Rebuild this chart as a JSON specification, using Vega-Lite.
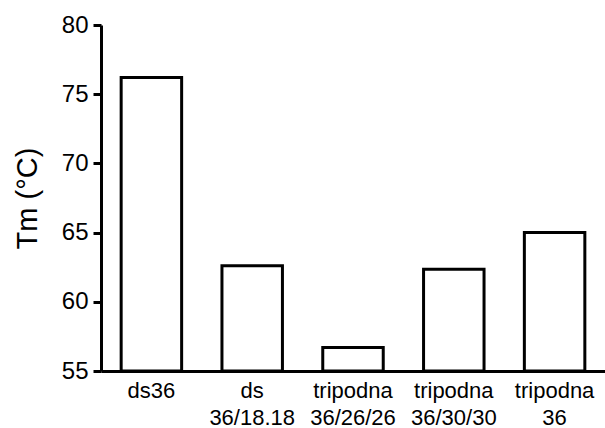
{
  "$schema": "https://vega.github.io/schema/vega-lite/v6.json",
  "width": 504,
  "height": 346,
  "autosize": {"type": "none"},
  "padding": {"left": 101, "top": 25, "right": 0, "bottom": 57},
  "background": "white",
  "config": {
    "view": {"stroke": null},
    "font": "Liberation Sans",
    "axis": {"grid": false, "domainColor": "black", "tickColor": "black", "labelColor": "black", "titleColor": "black", "domainWidth": 3, "tickWidth": 3}
  },
  "data": {
    "values": [
      {"cat": "ds36", "tm": 76.2},
      {"cat": "ds|36/18.18", "tm": 62.6},
      {"cat": "tripodna|36/26/26", "tm": 56.7},
      {"cat": "tripodna|36/30/30", "tm": 62.35},
      {"cat": "tripodna|36", "tm": 65.0}
    ]
  },
  "mark": {"type": "bar", "fill": "white", "stroke": "black", "strokeWidth": 3},
  "encoding": {
    "x": {
      "field": "cat", "type": "nominal", "sort": null,
      "scale": {"paddingInner": 0.4, "paddingOuter": 0.2},
      "axis": {"title": null, "ticks": false, "labelAngle": 0, "labelFontSize": 22, "labelPadding": 9, "labelLineHeight": 27, "labelExpr": "split(datum.label, '|')", "labelBaseline": "top", "labelOverlap": false}
    },
    "y": {
      "field": "tm", "type": "quantitative",
      "scale": {"domain": [55, 80], "nice": false, "zero": false},
      "axis": {"title": "Tm (°C)", "values": [55, 60, 65, 70, 75, 80], "tickSize": 8, "labelPadding": 5, "labelFontSize": 24, "titleFontSize": 29, "titleFontWeight": "normal", "titlePadding": 19}
    },
    "y2": {"datum": 55}
  }
}
